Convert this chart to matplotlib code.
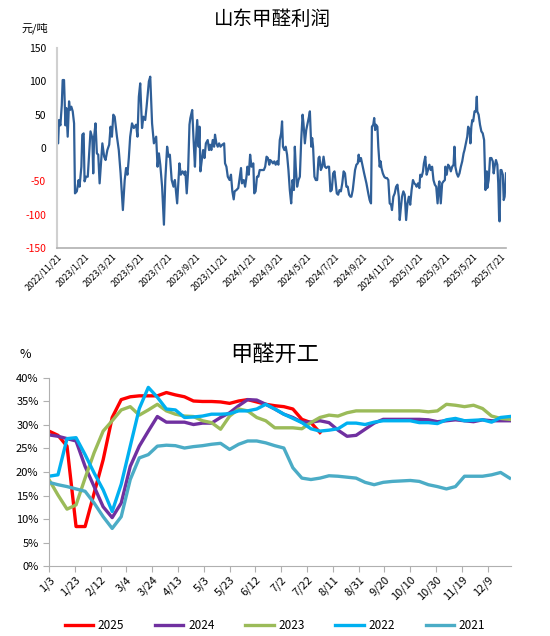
import numpy as np
import pandas as pd
import matplotlib
matplotlib.use('Agg')
import matplotlib.pyplot as plt

plt.rcParams['font.family'] = ['Noto Sans CJK SC', 'DejaVu Sans']

# ---- 山东甲醛利润 (元/吨), days counted from 2022/11/21
profit_start = '2022-11-21'
profit_days = [
    0, 2, 4, 7, 10, 12, 15, 18, 20, 23, 26, 28, 31, 34, 37, 39, 43, 47, 49, 53,
    55, 58, 60, 63, 67, 70, 73, 77, 79, 81, 84, 87, 90, 93, 96, 99, 103, 106, 110, 114,
    117, 120, 123, 126, 131, 135, 139, 144, 148, 151, 154, 157, 160, 164, 168, 173, 176, 179, 182, 186,
    189, 193, 196, 201, 204, 208, 212, 217, 220, 223, 226, 230, 234, 237, 241, 244, 247, 251, 255, 258,
    263, 268, 271, 275, 279, 281, 284, 287, 290, 292, 296, 299, 302, 304, 307, 310, 312, 314, 317, 320,
    323, 326, 330, 333, 335, 338, 341, 344, 346, 349, 352, 355, 358, 362, 366, 368, 371, 374, 378, 381,
    384, 387, 389, 393, 397, 400, 403, 405, 409, 412, 415, 417, 420, 423, 426, 430, 432, 435, 438, 441,
    444, 448, 453, 456, 459, 462, 465, 467, 470, 473, 476, 479, 482, 485, 488, 491, 493, 495, 498, 501,
    504, 507, 510, 513, 516, 519, 521, 523, 526, 529, 532, 535, 538, 540, 543, 546, 549, 552, 554, 557,
    559, 561, 564, 567, 570, 573, 575, 578, 581, 584, 587, 590, 593, 596, 599, 602, 605, 608, 610, 613,
    616, 619, 622, 625, 628, 631, 634, 637, 640, 643, 645, 648, 653, 656, 659, 661, 663, 666, 669, 673,
    678, 682, 685, 688, 690, 693, 695, 697, 699, 702, 704, 707, 709, 711, 714, 717, 720, 723, 726, 729,
    732, 734, 737, 740, 743, 746, 749, 751, 753, 756, 759, 762, 765, 768, 771, 774, 777, 780, 783, 786,
    788, 791, 794, 796, 799, 802, 804, 807, 810, 813, 816, 819, 822, 825, 828, 831, 834, 837, 838, 841,
    844, 847, 850, 851, 854, 857, 860, 863, 866, 869, 871, 873, 876, 879, 882, 885, 888, 891, 893, 896,
    899, 901, 904, 906, 908, 910, 912, 915, 918, 920, 921, 924, 927, 930, 933, 936, 938, 939, 942, 943,
    946, 949, 952, 955, 957, 959, 962, 965, 967, 969, 970, 972, 974, 977, 979, 981, 984,
]
profit_values = [
    12, 7, 42, 34, 64, 102, 102, 34, 60, 17, 70, 57, 62, 55, 37, -68, -65, -48, -58, -28,
    20, 22, -50, -43, -43, -8, 25, 15, -38, 17, 37, -8, -10, -53, -23, 7, -13, -18, -3, 5,
    32, 17, 50, 47, 17, -3, -38, -93, -48, -30, -40, -15, 17, 37, 30, 35, 17, 77, 97, 30,
    47, 42, 62, 100, 107, 37, 7, 17, -28, -8, -25, -58, -115, -48, 2, -13, -10, -48, -58, -48,
    -83, -23, -40, -35, -40, -35, -68, -35, 35, 45, 57, 12, -28, 7, 42, 2, 32, -35, -18, -3,
    -15, 7, 12, -3, 5, -3, 12, 2, 20, 7, 2, 7, 2, 5, 7, -23, -28, -43, -48, -40,
    -65, -77, -65, -63, -60, -45, -30, -53, -48, -58, -43, -28, -40, -10, -28, -23, -68, -65, -43, -43,
    -33, -33, -33, -28, -13, -15, -25, -18, -20, -23, -20, -25, -20, -25, 12, 22, 40, 2, -3, 2,
    -10, -33, -63, -83, -48, -63, 2, -28, -58, -48, -43, 12, 50, 37, 7, 27, 37, 47, 55, 2,
    15, 2, -43, -48, -48, -15, -13, -33, -28, -13, -28, -30, -28, -28, -65, -63, -38, -35, -48, -68,
    -70, -63, -65, -53, -35, -38, -58, -58, -70, -73, -73, -63, -33, -25, -23, -10, -20, -15, -25, -38,
    -53, -68, -78, -83, 32, 35, 45, 27, 35, 32, 2, -28, -20, -30, -38, -43, -45, -45, -48, -83,
    -85, -93, -73, -68, -58, -55, -73, -108, -93, -73, -65, -70, -108, -83, -73, -85, -63, -48, -53, -55,
    -58, -53, -60, -40, -43, -35, -23, -13, -40, -33, -25, -33, -28, -48, -55, -58, -83, -53, -50, -83,
    -53, -50, -48, -28, -40, -25, -28, -35, -28, -25, 2, -28, -38, -43, -38, -28, -20, -8, -3, 7,
    17, 32, 27, 7, 32, 42, 40, 55, 55, 77, 55, 50, 35, 25, 22, 12, -38, -63, -35, -60,
    -48, -15, -15, -20, -38, -28, -18, -25, -53, -108, -110, -33, -33, -40, -78, -73, -38,
]

# ---- 甲醛开工 (%), weekly readings from 1/3
rate_start = '2025-01-03'
rate_years = ['2025', '2024', '2023', '2022', '2021']
rate_2025 = [28.7, 27.8, 25.5, 8.4, 8.4, 15.5, 22.6, 31.6, 35.4, 36.0,
             36.2, 36.2, 36.2, 36.9, 36.4, 36.0, 35.1, 35.0, 35.0, 34.9,
             34.6, 35.1, 35.4, 34.9, 34.4, 34.1, 33.9, 33.4, 31.2, 30.5, 28.4]
rate_2024 = [27.9, 27.6, 27.1, 26.6, 21.2, 16.9, 12.6, 10.3, 13.4, 21.2,
             25.5, 28.7, 31.8, 30.6, 30.6, 30.6, 30.1, 30.4, 30.4, 31.6,
             32.6, 34.1, 35.4, 35.3, 34.4, 33.4, 32.3, 31.6, 30.6, 30.6,
             30.9, 30.5, 28.9, 27.6, 27.8, 29.1, 30.4, 31.2, 31.2, 31.2,
             31.2, 31.2, 31.1, 30.7, 30.9, 31.1, 30.9, 30.7, 31.1, 30.9, 30.9, 30.9]
rate_2023 = [18.4, 15.1, 12.1, 13.0, 18.7, 24.1, 28.7, 30.9, 33.2, 33.9,
             32.1, 33.2, 34.4, 33.0, 32.3, 31.9, 31.8, 30.9, 30.5, 29.1,
             31.9, 33.4, 33.0, 31.6, 30.9, 29.4, 29.4, 29.4, 29.2, 30.5,
             31.6, 32.1, 31.9, 32.6, 33.0, 33.0, 33.0, 33.0, 33.0, 33.0,
             33.0, 33.0, 32.8, 33.0, 34.4, 34.2, 33.9, 34.2, 33.5, 31.9, 31.4, 31.2]
rate_2022 = [19.1, 19.4, 27.1, 27.3, 23.7, 19.8, 16.2, 11.6, 17.4, 25.5,
             33.5, 38.0, 35.9, 33.4, 33.2, 31.6, 31.7, 31.9, 32.3, 32.3,
             32.4, 33.0, 33.0, 33.4, 34.4, 33.4, 32.3, 31.4, 30.5, 29.2,
             28.7, 28.9, 29.2, 30.4, 30.4, 30.1, 30.6, 30.9, 30.9, 30.9,
             30.9, 30.5, 30.5, 30.3, 31.1, 31.4, 30.9, 31.0, 31.1, 30.6, 31.6, 31.8]
rate_2021 = [17.8, 17.3, 16.9, 16.4, 15.9, 13.4, 10.5, 8.0, 10.5, 18.4,
             23.0, 23.7, 25.5, 25.7, 25.6, 25.1, 25.4, 25.6, 25.9, 26.1,
             24.8, 25.9, 26.6, 26.6, 26.2, 25.6, 25.1, 20.9, 18.7, 18.4,
             18.7, 19.2, 19.1, 18.9, 18.7, 17.8, 17.3, 17.8, 18.0, 18.1,
             18.2, 18.0, 17.3, 16.9, 16.4, 16.9, 19.1, 19.1, 19.1, 19.4, 19.9, 18.7]
rate_colors = ['#FF0000', '#7030A0', '#9BBB59', '#00B0F0', '#4BACC6']

fig = plt.figure(figsize=(5.5, 6.36), dpi=100)

# ---------------- top chart
ax1 = fig.add_axes([0.104, 0.610, 0.816, 0.3145])
dates = pd.Timestamp(profit_start) + pd.to_timedelta(profit_days, unit='D')
ax1.plot(dates, profit_values, color='#2F5F98', lw=1.6)
ax1.set_ylim(-150, 150)
ax1.set_xlim(dates[0], dates[-1])
yt = list(range(-150, 151, 50))
ax1.set_yticks(yt)
for lab, v in zip(ax1.set_yticklabels([str(v) for v in yt]), yt):
    lab.set_color('#FF0000' if v < 0 else 'black')
ticks = pd.date_range(profit_start, '2025-07-21', freq=pd.DateOffset(months=2))
ax1.set_xticks(ticks)
ax1.set_xticklabels([f'{d.year}/{d.month}/{d.day}' for d in ticks], rotation=45,
                    ha='right', rotation_mode='anchor', fontsize=6.5)
ax1.tick_params(axis='y', length=0, labelsize=7.5, pad=8)
ax1.tick_params(axis='x', length=0, pad=3)
for s in ['top', 'right']:
    ax1.spines[s].set_visible(False)
ax1.spines['left'].set_color('#D0D0D0')
ax1.spines['bottom'].set_color('#B0B0B0')
ax1.spines['left'].set_linewidth(1.5)
ax1.spines['bottom'].set_linewidth(1.2)
fig.text(0.495, 0.969, '山东甲醛利润', ha='center', va='center', fontsize=14)
fig.text(0.04, 0.956, '元/吨', ha='left', va='center', fontsize=8)

# ---------------- bottom chart
ax2 = fig.add_axes([0.089, 0.110, 0.840, 0.2957])
base = pd.Timestamp(rate_start)
series = [rate_2025, rate_2024, rate_2023, rate_2022, rate_2021]
for name, vals, col in zip(rate_years, series, rate_colors):
    days = np.arange(len(vals)) * 7
    ax2.plot(days, vals, color=col, lw=2.4, label=name, solid_joinstyle='round')
ax2.set_xlim(0, 358)
ax2.set_ylim(0, 40)
ax2.set_yticks(range(0, 41, 5))
ax2.set_yticklabels([f'{v}%' for v in range(0, 41, 5)])
xt = list(range(0, 358, 20))
xdates = [base + pd.Timedelta(days=d) for d in xt]
ax2.set_xticks(xt)
ax2.set_xticklabels([f'{d.month}/{d.day}' for d in xdates], rotation=45,
                    ha='right', rotation_mode='anchor', fontsize=8)
ax2.tick_params(axis='y', labelsize=8, length=4, color='#B0B0B0', direction='out')
ax2.tick_params(axis='x', length=4, color='#B0B0B0', direction='out', pad=2)
for s in ['top', 'right']:
    ax2.spines[s].set_visible(False)
for s in ['left', 'bottom']:
    ax2.spines[s].set_color('#B0B0B0')
fig.text(0.5, 0.442, '甲醛开工', ha='center', va='center', fontsize=16)
fig.text(0.035, 0.442, '%', ha='left', va='center', fontsize=9)

fig.legend(loc='lower center', bbox_to_anchor=(0.5, -0.01), ncol=5, frameon=False,
           handlelength=2.4, handletextpad=0.4, columnspacing=2.6, fontsize=8.5)

fig.savefig('out.png', dpi=100)
